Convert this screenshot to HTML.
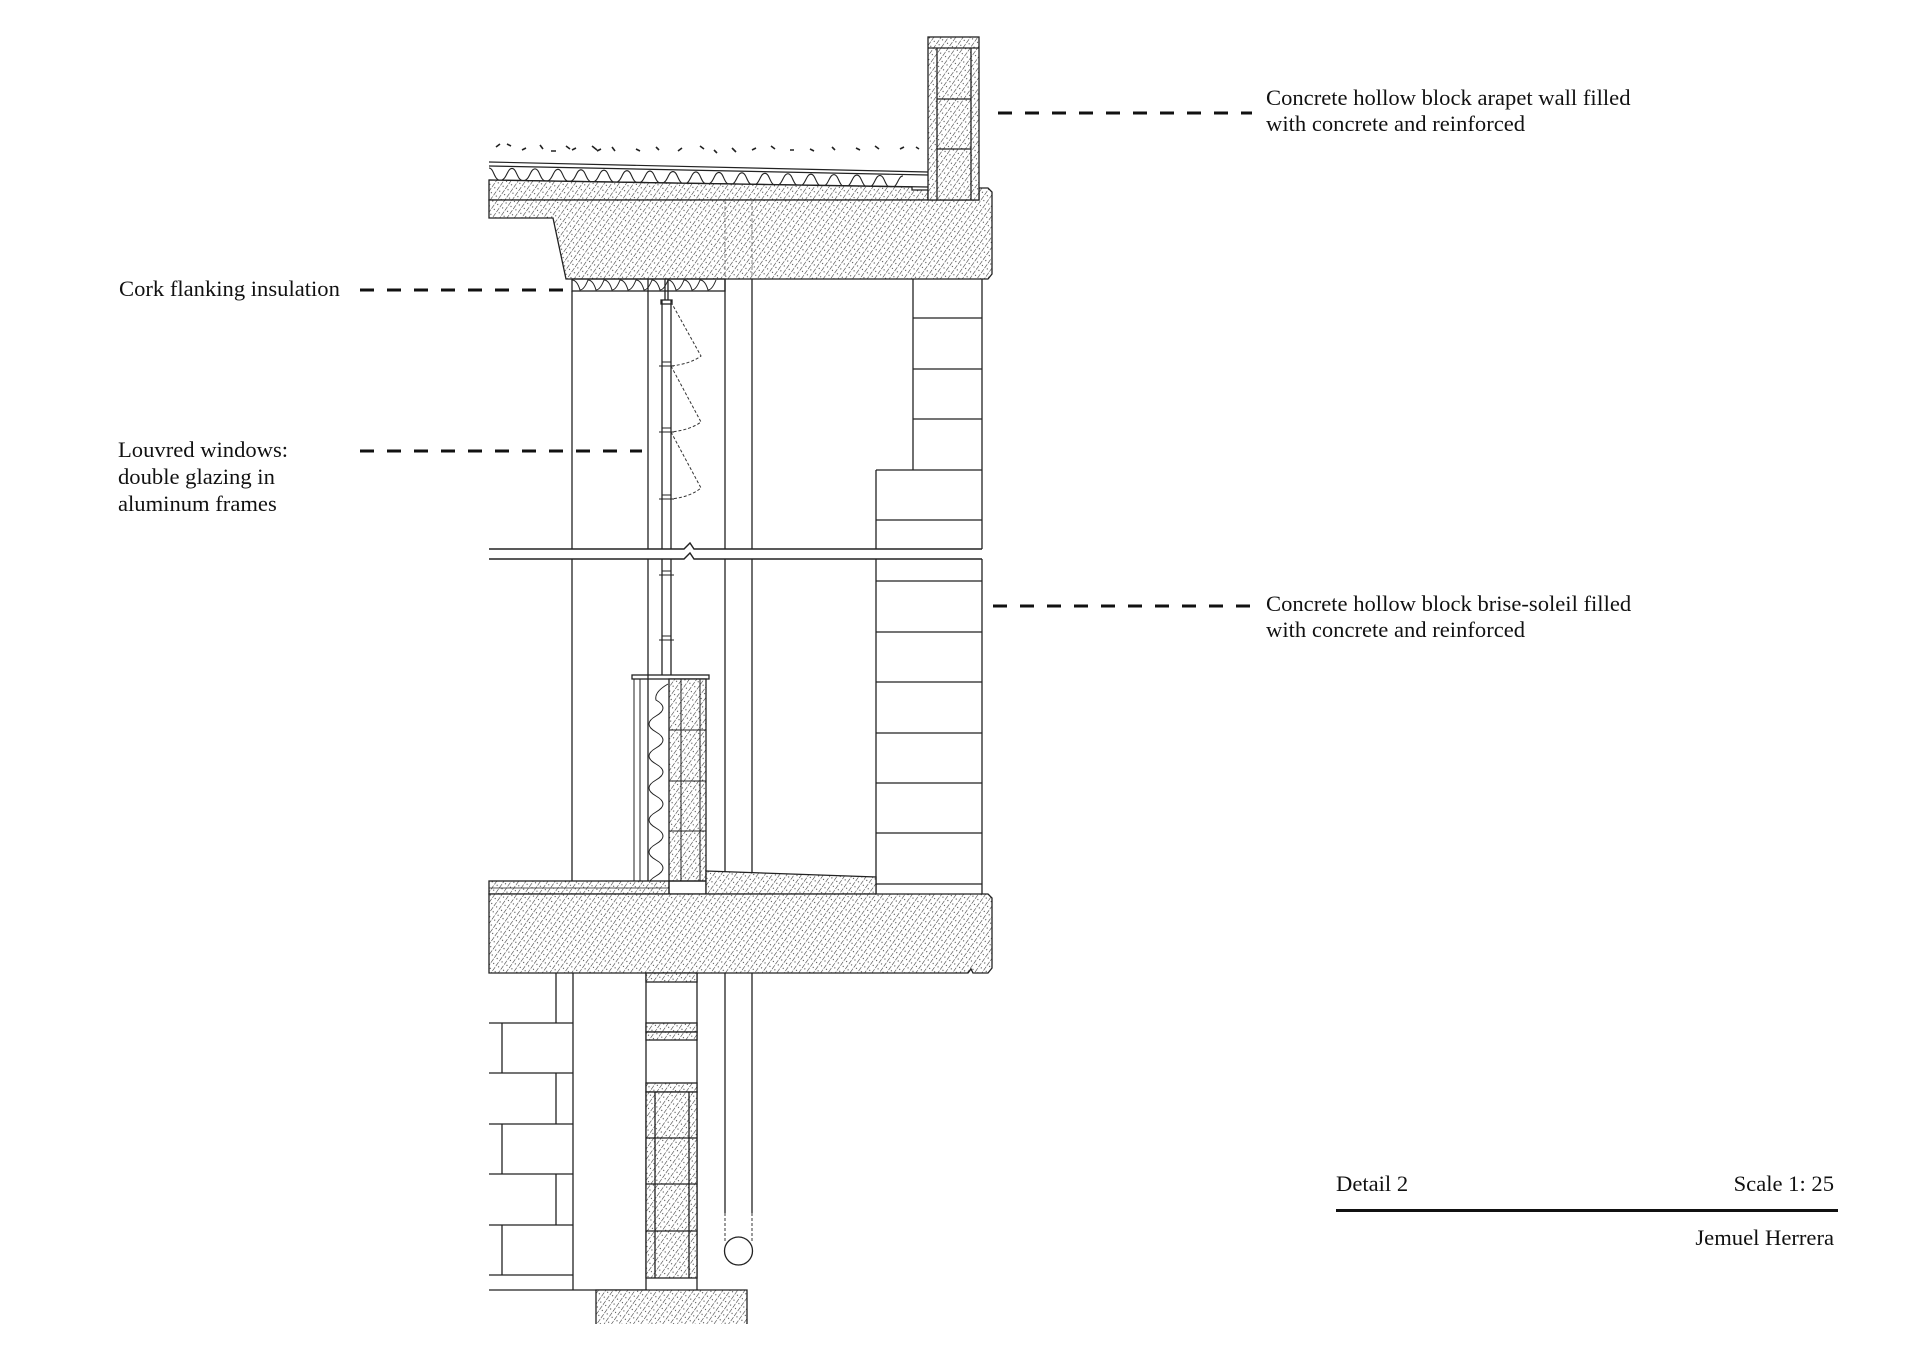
<!DOCTYPE html>
<html><head><meta charset="utf-8"><style>
html,body{margin:0;padding:0;background:#fff;}
svg{display:block}
text{font-family:"Liberation Serif",serif;font-size:22.6px;fill:#111}
</style></head><body>
<svg width="1920" height="1358" viewBox="0 0 1920 1358" xmlns="http://www.w3.org/2000/svg">
<defs>
<pattern id="h" width="6" height="6" patternUnits="userSpaceOnUse" patternTransform="rotate(35)">
<rect width="6" height="6" fill="#fff"/>
<line x1="0" y1="0" x2="0" y2="6" stroke="#333" stroke-width="1.1" stroke-dasharray="3 1.2"/>
<circle cx="3" cy="2" r="0.6" fill="#444"/>
</pattern>
</defs>
<g stroke="#222" stroke-width="1.3" fill="none">
<g stroke="#222" stroke-width="1.6">
<path d="M496,147 l4,-3 M507,144 l4,2 M522,150 l4,-2 M540,145 l3,4 M551,151 l5,0 M566,146 l4,3 M572,150 l4,-2 M592,146 l5,4 M597,151 l4,-2 M612,147 l3,4 M636,149 l4,2 M656,147 l3,3 M678,151 l4,-3 M700,146 l4,3 M714,150 l3,3 M732,148 l4,4 M752,150 l4,-2 M771,146 l4,3 M790,150 l4,0 M810,149 l4,2 M832,147 l3,3 M856,148 l4,2 M875,146 l4,3 M900,149 l4,-2 M916,147 l3,2"/>
</g>
<path d="M489,162 L928,172 M489,166 L928,175 M489,180 L928,187" stroke-width="1.2"/>
<path d="M489,168 c5,0 5,12 11.5,12 c6.5,0 6.5,-12 11.5,-12 c5,0 5,12 11.5,12 c6.5,0 6.5,-12 11.5,-12 c5,0 5,12 11.5,12 c6.5,0 6.5,-12 11.5,-12 c5,0 5,12 11.5,12 c6.5,0 6.5,-12 11.5,-12 c5,0 5,12 11.5,12 c6.5,0 6.5,-12 11.5,-12 c5,0 5,12 11.5,12 c6.5,0 6.5,-12 11.5,-12 c5,0 5,12 11.5,12 c6.5,0 6.5,-12 11.5,-12 c5,0 5,12 11.5,12 c6.5,0 6.5,-12 11.5,-12 c5,0 5,12 11.5,12 c6.5,0 6.5,-12 11.5,-12 c5,0 5,12 11.5,12 c6.5,0 6.5,-12 11.5,-12 c5,0 5,12 11.5,12 c6.5,0 6.5,-12 11.5,-12 c5,0 5,12 11.5,12 c6.5,0 6.5,-12 11.5,-12 c5,0 5,12 11.5,12 c6.5,0 6.5,-12 11.5,-12 c5,0 5,12 11.5,12 c6.5,0 6.5,-12 11.5,-12 c5,0 5,12 11.5,12 c6.5,0 6.5,-12 11.5,-12 c5,0 5,12 11.5,12 c6.5,0 6.5,-12 11.5,-12 c5,0 5,12 11.5,12 c6.5,0 6.5,-12 11.5,-12 c5,0 5,12 11.5,12 c6.5,0 6.5,-12 11.5,-12" stroke-width="1.1" transform="rotate(1.1 489 168)"/>
<path d="M489,180 L912,187 L912,190 L928,190 L928,200 L489,200 Z" fill="url(#h)"/>
<path d="M489,200 L979,200 L979,188 L988,188 L992,192 L992,274 L988,279 L566,279 L553,218 L489,218 Z" fill="url(#h)"/>
<rect x="928" y="37" width="51" height="163" fill="url(#h)"/>
<path d="M928,48 H979 M937,48 V200 M971,48 V200 M937,99 H971 M937,149 H971"/>
<rect x="572" y="279" width="153" height="12"/>
<path d="M572,280 q5,0 8,10 q4,0 8,-10 q5,0 8,10 q4,0 8,-10 q5,0 8,10 q4,0 8,-10 q5,0 8,10 q4,0 8,-10 q5,0 8,10 q4,0 8,-10 q5,0 8,10 q4,0 8,-10 q5,0 8,10 q4,0 8,-10 q5,0 8,10 q4,0 8,-10 q5,0 8,10 q4,0 8,-10" stroke-width="1"/>
<path d="M572,291 V549 M572,559 V881 M648,279 V549 M648,559 V881 M725,279 V549 M725,559 V894 M752,279 V549 M752,559 V894"/>
<path d="M725,200 V279 M752,200 V279 M725,894 V973 M752,894 V973" stroke="#666" stroke-width="0.8" stroke-dasharray="4 2"/>
<path d="M662,300 V549 M671,300 V549 M662,559 V675 M671,559 V675 M665,279 V300 M668,279 V300"/>
<rect x="661" y="300" width="11" height="4"/>
<g stroke-width="1.1"><path d="M659,366 h15 M659,432 h15 M659,499 h15 M659,575 h15 M659,640 h15 M662,362 h9 M662,428 h9 M662,495 h9 M662,571 h9 M662,636 h9"/></g>
<g stroke="#333" stroke-width="1" stroke-dasharray="3 2">
<path d="M671,302 L701,356 Q690,364 671,366"/>
<path d="M671,366 L701,422 Q690,430 671,432"/>
<path d="M671,432 L701,488 Q690,497 671,499"/>
</g>
<path d="M489,549 H684 L690,543 L694,549 H982 M489,559 H684 L690,553 L694,559 H982" stroke-width="1.4"/>
<path d="M913,279 V470 M982,279 V549 M982,559 V894 M913,318 H982 M913,369 H982 M913,419 H982 M876,470 H982 M876,470 V549 M876,559 V894 M876,520 H982 M876,581 H982 M876,632 H982 M876,682 H982 M876,733 H982 M876,783 H982 M876,833 H982 M876,884 H982"/>
<rect x="632" y="675" width="77" height="4"/>
<path d="M634,679 V881 M640,679 V881 M648,679 V881" stroke-width="1"/>
<rect x="669" y="679" width="37" height="202" fill="url(#h)"/>
<path d="M669,730 H706 M669,781 H706 M669,831 H706 M681,679 V881 M700,679 V881" stroke-width="1"/>
<path d="M668,684 q-14,8 -12,16 q14,8 0,16 q-14,8 0,16 q14,8 0,16 q-14,8 0,16 q14,8 0,16 q-14,8 0,16 q14,8 0,16 q-14,8 0,16 q14,8 0,16 q-14,8 0,16 q14,8 0,16 q-14,8 0,16" stroke-width="1"/>
<rect x="489" y="881" width="180" height="13" fill="url(#h)"/>
<path d="M489,888 H669" stroke-width="0.8"/>
<rect x="669" y="881" width="37" height="13"/>
<path d="M706,871 L876,877 L876,894 L706,894 Z" fill="url(#h)"/>
<path d="M489,894 L988,894 L992,898 L992,968 L988,973 L973,973 L971,969 L968,973 L489,973 Z" fill="url(#h)"/>
<path d="M573,973 V1290 M489,1023 H573 M489,1073 H573 M489,1124 H573 M489,1174 H573 M489,1225 H573 M489,1275 H573 M489,1290 H647 M556,973 V1023 M556,1073 V1124 M556,1174 V1225 M502,1023 V1073 M502,1124 V1174 M502,1225 V1275"/>
<path d="M646,973 V1290 M697,973 V1290"/>
<rect x="646" y="973" width="51" height="9" fill="url(#h)"/>
<rect x="646" y="1023" width="51" height="9" fill="url(#h)"/>
<rect x="646" y="1032" width="51" height="8" fill="url(#h)"/>
<rect x="646" y="1083" width="51" height="9" fill="url(#h)"/>
<rect x="646" y="1092" width="51" height="186" fill="url(#h)"/>
<path d="M655,1092 V1278 M689,1092 V1278 M646,1138 H697 M646,1184 H697 M646,1231 H697"/>
<path d="M596,1324 V1290 H747 V1324" fill="url(#h)"/>
<path d="M725,973 V1213 M752,973 V1213"/>
<path d="M725,1213 V1243 M752,1213 V1243" stroke-dasharray="3 2" stroke-width="0.9"/>
<circle cx="738.5" cy="1251" r="14"/>
</g>
<g stroke="#111" stroke-width="3" stroke-dasharray="14 13">
<line x1="998" y1="113" x2="1252" y2="113"/>
<line x1="360" y1="290" x2="568" y2="290"/>
<line x1="360" y1="451" x2="642" y2="451"/>
<line x1="993" y1="606" x2="1252" y2="606"/>
</g>
<text x="1266" y="105">Concrete hollow block arapet wall filled</text>
<text x="1266" y="131">with concrete and reinforced</text>
<text x="119" y="296">Cork flanking insulation</text>
<text x="118" y="457">Louvred windows:</text>
<text x="118" y="484">double glazing in</text>
<text x="118" y="511">aluminum frames</text>
<text x="1266" y="611">Concrete hollow block brise-soleil filled</text>
<text x="1266" y="637">with concrete and reinforced</text>
<text x="1336" y="1191">Detail 2</text>
<text x="1834" y="1191" text-anchor="end">Scale 1: 25</text>
<rect x="1336" y="1209" width="502" height="3" fill="#111"/>
<text x="1834" y="1245" text-anchor="end">Jemuel Herrera</text>
</svg>
</body></html>
